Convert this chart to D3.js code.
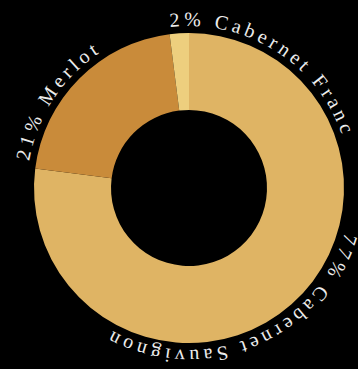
<!DOCTYPE html>
<html><head><meta charset="utf-8">
<script src="https://cdn.jsdelivr.net/npm/d3@7"></script>
<style>html,body{margin:0;padding:0;background:#000;}svg{display:block;}</style>
</head><body>
<script>
const categories = ["Cabernet Sauvignon", "Merlot", "Cabernet Franc"];
const values = [77, 21, 2];
const colors = ["#DFB464", "#C98B3A", "#EDCF7E"];
const labelStartDeg = [106, 279.5, 353.3];

const W = 358, H = 369, cx = 189, cy = 188;
const rOuter = 155, rInner = 78, rText = 162;

const svg = d3.select("body").append("svg").attr("width", W).attr("height", H)
  .style("background", "#000");
const g = svg.append("g").attr("transform", `translate(${cx},${cy})`);

const data = categories.map((c, i) => ({name: c, value: values[i], color: colors[i]}));
const pie = d3.pie().value(d => d.value).sort(null);
const arc = d3.arc().innerRadius(rInner).outerRadius(rOuter);
const arcs = pie(data);

g.selectAll("path.slice").data(arcs).join("path")
  .attr("class", "slice")
  .attr("d", arc)
  .attr("fill", d => d.data.color);

const defs = g.append("defs");
arcs.forEach((a, i) => {
  const s = labelStartDeg[i] * Math.PI / 180;
  const e = s + Math.PI * 0.75;
  const x0 = rText * Math.sin(s), y0 = -rText * Math.cos(s);
  const x1 = rText * Math.sin(e), y1 = -rText * Math.cos(e);
  defs.append("path").attr("id", "lp" + i)
    .attr("d", `M${x0},${y0} A${rText},${rText} 0 0 1 ${x1},${y1}`);
});

g.selectAll("text.lbl").data(arcs).join("text")
  .attr("class", "lbl")
  .attr("fill", "#ECECEC")
  .style("font-family", "'Liberation Serif', 'DejaVu Serif', serif")
  .style("font-size", "20px")
  .style("letter-spacing", "4px")
  .append("textPath")
  .attr("href", (d, i) => "#lp" + i)
  .text(d => `${d.data.value}% ${d.data.name}`);
</script>
</body></html>
